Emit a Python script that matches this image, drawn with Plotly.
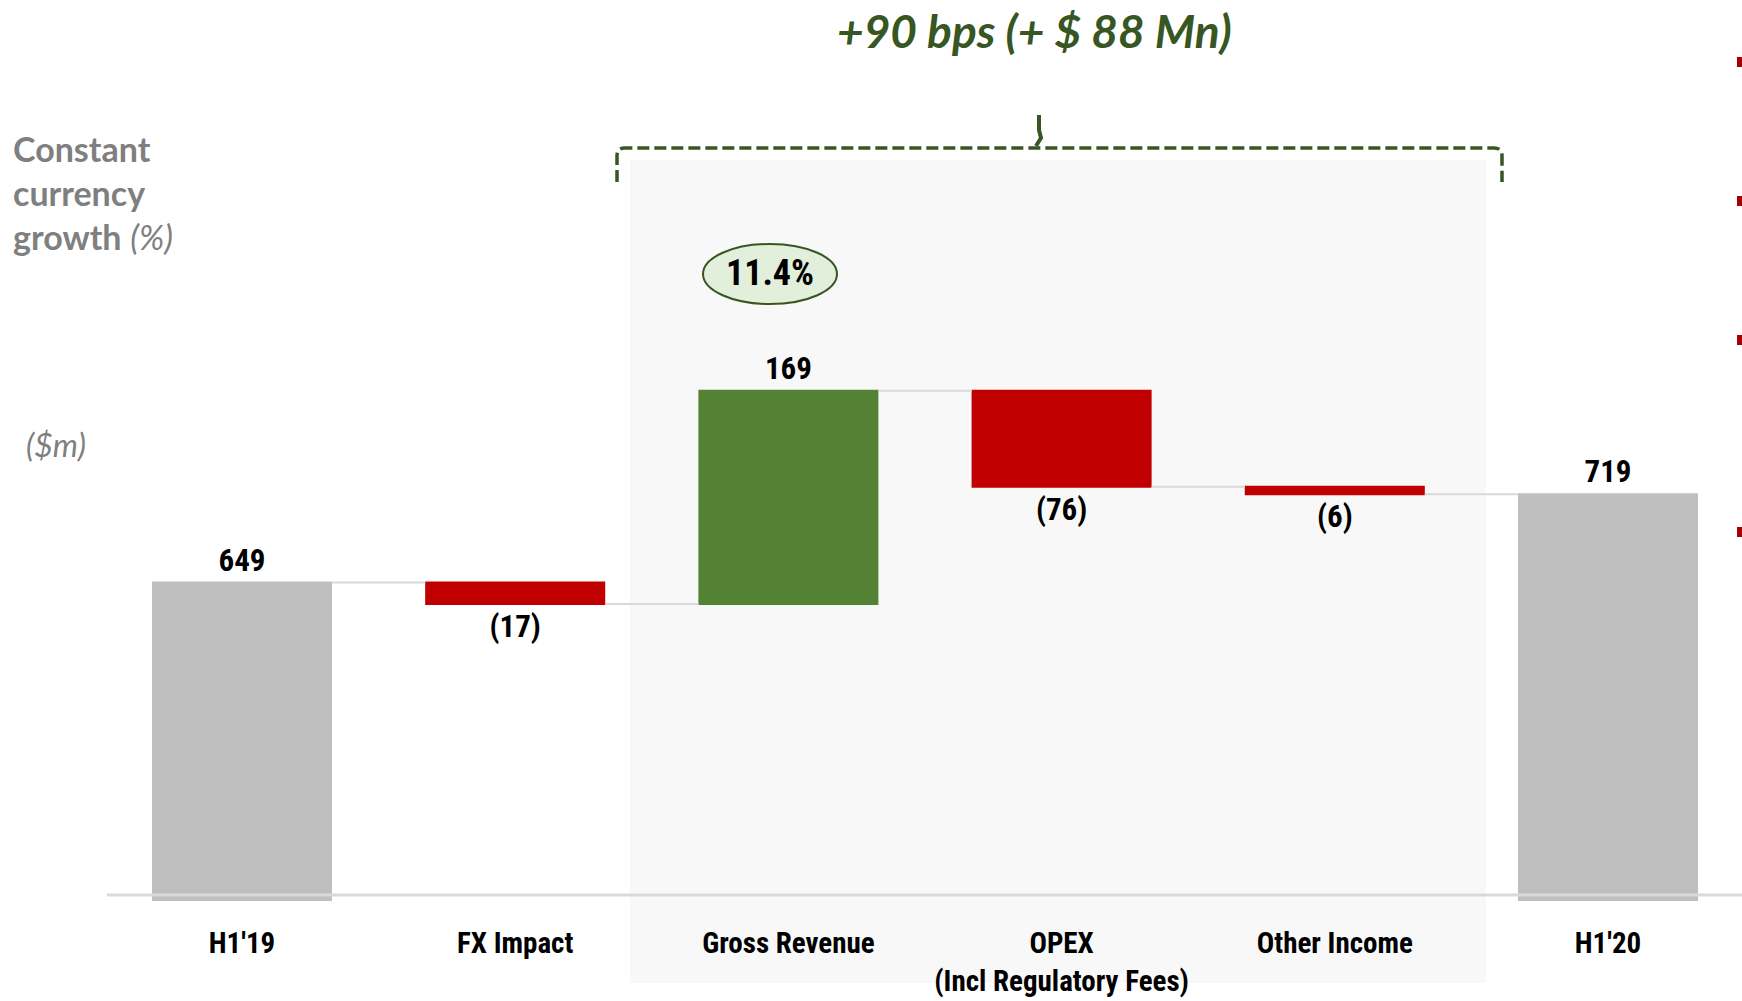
import plotly.graph_objects as go

# ---- data ----
categories = ["H1'19", "FX Impact", "Gross Revenue", "OPEX", "Other Income", "H1'20"]
tick_labels = ["H1'19", "FX Impact", "Gross Revenue", "OPEX<br>(Incl Regulatory Fees)", "Other Income", "H1'20"]
measures = ["absolute", "relative", "relative", "relative", "relative", "total"]
values = [649, -17, 169, -76, -6, 0]
growth_label = "11.4%"
title_text = "+90 bps (+ $ 88 Mn)"

# derived
final_total = sum(values[:-1])


def fmt(v):
    return f"({abs(v)})" if v < 0 else f"{v}"


texts = [fmt(v) for v in values[:-1]] + [fmt(final_total)]

W, H = 1742, 1001
PLOT_BOTTOM = 901  # px from top where plot area ends


def px(x):
    return x / W


def py(y):
    return (PLOT_BOTTOM - y) / PLOT_BOTTOM


NARROW = "Roboto Condensed, Liberation Sans Narrow, Roboto, sans-serif"
GREEN_DARK = "#375623"

fig = go.Figure()
fig.add_trace(go.Waterfall(
    x=categories,
    y=values,
    measure=measures,
    text=texts,
    textposition="outside",
    textfont=dict(family=NARROW, size=31, color="#000000", weight="bold"),
    cliponaxis=False,
    increasing=dict(marker=dict(color="#548235")),
    decreasing=dict(marker=dict(color="#c00000")),
    totals=dict(marker=dict(color="#bfbfbf")),
    connector=dict(mode="between", line=dict(color="#d9d9d9", width=2)),
    hoverinfo="skip",
))

ymin = 396.7
ymax = ymin + PLOT_BOTTOM / 1.262

shapes = []
# shaded region
shapes.append(dict(type="rect", xref="paper", yref="paper",
                   x0=px(630), x1=px(1486), y0=py(983), y1=py(160),
                   fillcolor="#f8f8f8", line=dict(width=0), layer="below"))
# axis baseline
shapes.append(dict(type="line", xref="paper", yref="paper",
                   x0=px(107), x1=1, y0=py(895), y1=py(895),
                   line=dict(color="#d9d9d9", width=3), layer="above"))
# bracket
p = (f"M {px(617)},{py(182)} L {px(617)},{py(156)} Q {px(617)},{py(148)} {px(625)},{py(148)} "
     f"L {px(1494)},{py(148)} Q {px(1502)},{py(148)} {px(1502)},{py(156)} L {px(1502)},{py(182)}")
shapes.append(dict(type="path", xref="paper", yref="paper", path=p,
                   line=dict(color=GREEN_DARK, width=3.5, dash="12px,5px")))
shapes.append(dict(type="path", xref="paper", yref="paper",
                   path=f"M {px(1039)},{py(115)} L {px(1039)},{py(130)} L {px(1041)},{py(138)} L {px(1036)},{py(146)}",
                   line=dict(color=GREEN_DARK, width=4)))
# growth ellipse
shapes.append(dict(type="circle", xref="paper", yref="paper",
                   x0=px(703), x1=px(837), y0=py(304), y1=py(244),
                   fillcolor="#e2efda", line=dict(color=GREEN_DARK, width=2)))
# red edge ticks
for yc in [62, 201, 340, 532]:
    shapes.append(dict(type="rect", xref="paper", yref="paper",
                       x0=px(1737), x1=1, y0=py(yc + 5), y1=py(yc - 5),
                       fillcolor="#a50000", line=dict(width=0)))

annotations = [
    dict(text=f"<b><i>{title_text}</i></b>", x=px(1034), y=py(31), xref="paper", yref="paper",
         xanchor="center", yanchor="middle", showarrow=False,
         font=dict(family="Lato, sans-serif", size=46, color=GREEN_DARK, weight=900)),
    dict(text="<b>Constant<br>currency<br>growth</b> <i>(%)</i>", x=px(11), y=py(192),
         xref="paper", yref="paper", xanchor="left", yanchor="middle", align="left",
         showarrow=False, font=dict(family="Lato, sans-serif", size=34, color="#7f7f7f")),
    dict(text="<i>($m)</i>", x=px(24), y=py(444), xref="paper", yref="paper",
         xanchor="left", yanchor="middle", showarrow=False,
         font=dict(family="Lato, sans-serif", size=32, color="#7f7f7f")),
    dict(text=f"<b>{growth_label}</b>", x=px(770), y=py(273), xref="paper", yref="paper",
         xanchor="center", yanchor="middle", showarrow=False,
         font=dict(family=NARROW, size=36, color="#000000")),
]

fig.update_layout(
    width=W, height=H,
    margin=dict(l=0, r=0, t=0, b=H - PLOT_BOTTOM, pad=0),
    paper_bgcolor="white", plot_bgcolor="rgba(0,0,0,0)",
    showlegend=False,
    waterfallgap=0.341,
    shapes=shapes,
    annotations=annotations,
    xaxis=dict(
        range=[-242 / 273.2, (W - 242) / 273.2],
        tickmode="array", tickvals=categories, ticktext=[f"<b>{t}</b>" for t in tick_labels],
        tickfont=dict(family=NARROW, size=29, color="#000000"),
        showgrid=False, zeroline=False, showline=False, ticks="",
        ticklabelstandoff=22,
    ),
    yaxis=dict(range=[ymin, ymax], visible=False, showgrid=False, zeroline=False),
)

fig.write_html("out.html")
